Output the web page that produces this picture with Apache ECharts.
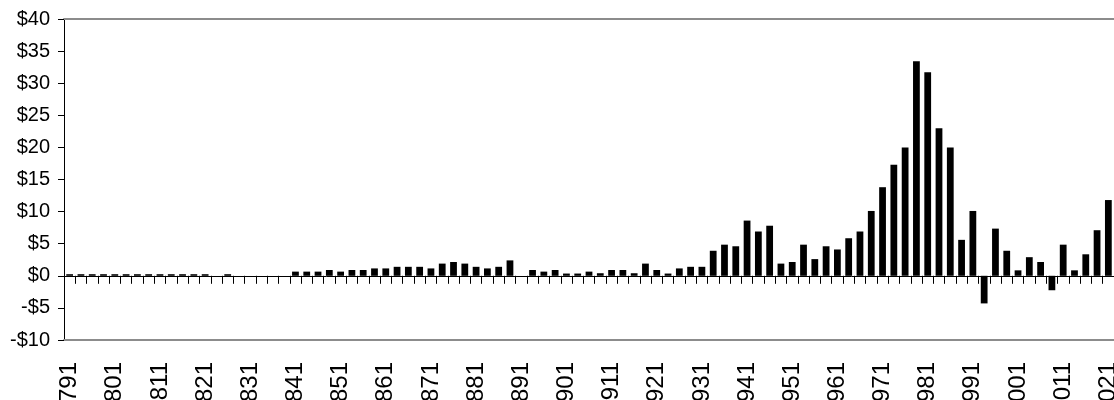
<!DOCTYPE html>
<html>
<head>
<meta charset="utf-8">
<script src="https://cdn.jsdelivr.net/npm/echarts@6/dist/echarts.min.js"></script>
<style>
	html, body { margin: 0; padding: 0; background: #fff; }
	#chart { width: 1114px; height: 400px; }
</style>
</head>
<body>
<div id="chart"></div>
<script>
//类目（每个标签间隔4个类目）
var years = [
	'1791','1793','1796','1798','1801','1803','1806','1808',
	'1811','1813','1816','1818','1821','1823','1826','1828',
	'1831','1833','1836','1838','1841','1843','1846','1848',
	'1851','1853','1856','1858','1861','1863','1866','1868',
	'1871','1873','1876','1878','1881','1883','1886','1888',
	'1891','1893','1896','1898','1901','1903','1906','1908',
	'1911','1913','1916','1918','1921','1923','1926','1928',
	'1931','1933','1936','1938','1941','1943','1946','1948',
	'1951','1953','1956','1958','1961','1963','1966','1968',
	'1971','1973','1976','1978','1981','1983','1986','1988',
	'1991','1993','1996','1998','2001','2003','2006','2008',
	'2011','2013','2016','2018','2021'
];
//数值
var values = [
	0.25, 0.25, 0.25, 0.25, 0.25, 0.25, 0.25, 0.25,
	0.25, 0.25, 0.25, 0.25, 0.25, null, 0.25, null,
	null, null, null, null, 0.65, 0.65, 0.65, 0.9,
	0.65, 0.9, 0.9, 1.15, 1.15, 1.4, 1.4, 1.4,
	1.15, 1.9, 2.15, 1.9, 1.4, 1.15, 1.4, 2.4,
	null, 0.9, 0.65, 0.9, 0.35, 0.35, 0.65, 0.4,
	0.9, 0.9, 0.4, 1.9, 0.9, 0.35, 1.15, 1.4,
	1.4, 3.9, 4.85, 4.6, 8.6, 6.9, 7.8, 1.9,
	2.15, 4.85, 2.6, 4.6, 4.1, 5.85, 6.9, 10.1,
	13.8, 17.3, 20, 33.4, 31.7, 23, 20, 5.6,
	10.1, -4.3, 7.35, 3.9, 0.85, 2.9, 2.15, -2.25,
	4.85, 0.85, 3.35, 7.1, 11.8
];
//纵轴刻度
var yMin = -10;
var yMax = 40;
var yStep = 5;

var fontName = 'Liberation Sans, Arial, sans-serif';

var chart = echarts.init(document.getElementById('chart'), null, {renderer: 'canvas'});
var option = {
	animation: false,
	grid: {
		left: 64,
		right: 0,
		top: 19,
		bottom: 60,
		containLabel: false,
		outerBoundsMode: 'none'
	},
	xAxis: [
		{
			//零线及刻度
			type: 'category',
			data: years,
			position: 'bottom',
			axisLine: {
				onZero: true,
				lineStyle: { color: '#000', width: 1 }
			},
			axisTick: {
				show: true,
				interval: 0,
				length: 8,
				lineStyle: { color: '#000' }
			},
			axisLabel: { show: false },
			splitLine: { show: false }
		},
		{
			//底部标签
			type: 'category',
			data: years,
			position: 'bottom',
			axisLine: {
				onZero: false,
				lineStyle: { color: '#8c8c8c', width: 2 }
			},
			axisTick: { show: false },
			axisLabel: {
				interval: 3,
				rotate: 90,
				margin: 22,
				color: '#000',
				fontSize: 24,
				fontFamily: fontName
			}
		},
		{
			//顶部边框
			type: 'category',
			data: years,
			position: 'top',
			axisLine: {
				onZero: false,
				lineStyle: { color: '#8c8c8c', width: 2 }
			},
			axisTick: { show: false },
			axisLabel: { show: false }
		}
	],
	yAxis: {
		type: 'value',
		min: yMin,
		max: yMax,
		interval: yStep,
		axisLine: {
			show: true,
			lineStyle: { color: '#000', width: 1 }
		},
		axisTick: {
			show: true,
			length: 6,
			lineStyle: { color: '#000' }
		},
		splitLine: { show: false },
		axisLabel: {
			margin: 14,
			color: '#000',
			fontSize: 20,
			fontFamily: fontName,
			formatter: function (v) {
				return v < 0 ? '-$' + Math.abs(v) : '$' + v;
			}
		}
	},
	series: [
		{
			type: 'bar',
			xAxisIndex: 0,
			data: values,
			barWidth: '60%',
			itemStyle: { color: '#000' }
		}
	]
};
chart.setOption(option);
</script>
</body>
</html>
